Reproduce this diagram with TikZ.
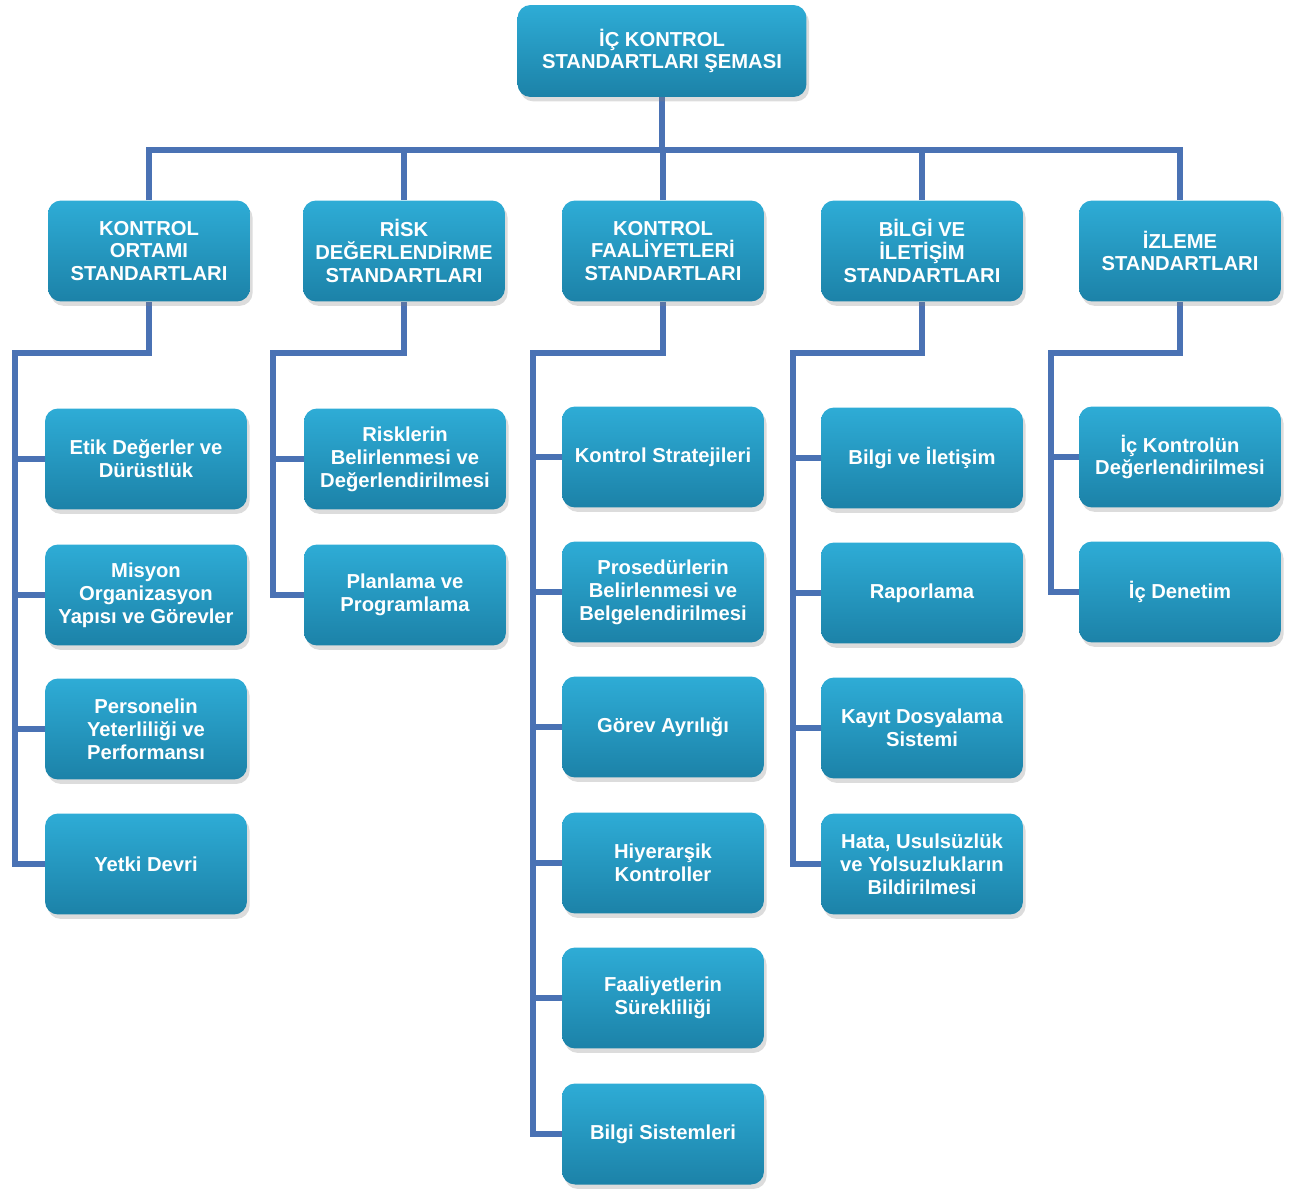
\documentclass[tikz,border=0pt]{standalone}
\usepackage{fontspec}
\setmainfont{Liberation Sans}
\usetikzlibrary{shadows,calc}
\definecolor{linecol}{RGB}{74,114,180}
\definecolor{boxtop}{RGB}{46,172,214}
\definecolor{boxbot}{RGB}{28,130,168}
\pgfdeclarelayer{bg}
\pgfsetlayers{bg,main}
\tikzset{
  box/.style={rounded corners=0.26cm, top color=boxtop, bottom color=boxbot,
    minimum width=4.04cm, minimum height=2.02cm, align=center, text=white,
    font=\fontsize{11.5}{13}\selectfont\bfseries, inner sep=2pt,
    drop shadow={opacity=0.28, shadow xshift=1.5pt, shadow yshift=-2.5pt}},
  conn/.style={draw=linecol, line width=3.4pt, line join=miter}
}
\begin{document}
\begin{tikzpicture}[x=0.02cm,y=-0.02cm]
\useasboundingbox (0,0) rectangle (1291,1189);
% top
\node[box, minimum width=5.78cm, minimum height=1.84cm] (top) at (662,51) {İÇ KONTROL\\STANDARTLARI ŞEMASI};
% level 1
\node[box] (k1) at (149,251) {KONTROL\\ORTAMI\\STANDARTLARI};
\node[box] (k2) at (404,251) {RİSK\\DEĞERLENDİRME\\STANDARTLARI};
\node[box] (k3) at (663,251) {KONTROL\\FAALİYETLERİ\\STANDARTLARI};
\node[box] (k4) at (922,251) {BİLGİ VE\\İLETİŞİM\\STANDARTLARI};
\node[box] (k5) at (1180,251) {İZLEME\\STANDARTLARI};
% column 1
\node[box] (a1) at (146,459) {Etik Değerler ve\\Dürüstlük};
\node[box] (a2) at (146,595) {Misyon\\Organizasyon\\Yapısı ve Görevler};
\node[box] (a3) at (146,729) {Personelin\\Yeterliliği ve\\Performansı};
\node[box] (a4) at (146,864) {Yetki Devri};
% column 2
\node[box] (b1) at (405,459) {Risklerin\\Belirlenmesi ve\\Değerlendirilmesi};
\node[box] (b2) at (405,595) {Planlama ve\\Programlama};
% column 3
\node[box] (c1) at (663,457) {Kontrol Stratejileri};
\node[box] (c2) at (663,592) {Prosedürlerin\\Belirlenmesi ve\\Belgelendirilmesi};
\node[box] (c3) at (663,727) {Görev Ayrılığı};
\node[box] (c4) at (663,863) {Hiyerarşik\\Kontroller};
\node[box] (c5) at (663,998) {Faaliyetlerin\\Sürekliliği};
\node[box] (c6) at (663,1134) {Bilgi Sistemleri};
% column 4
\node[box] (d1) at (922,458) {Bilgi ve İletişim};
\node[box] (d2) at (922,593) {Raporlama};
\node[box] (d3) at (922,728) {Kayıt Dosyalama\\Sistemi};
\node[box] (d4) at (922,864) {Hata, Usulsüzlük\\ve Yolsuzlukların\\Bildirilmesi};
% column 5
\node[box] (e1) at (1180,457) {İç Kontrolün\\Değerlendirilmesi};
\node[box] (e2) at (1180,592) {İç Denetim};
% coordinates
\coordinate (bus) at (0,150);
\coordinate (s1) at (15,353);
\coordinate (s2) at (273,353);
\coordinate (s3) at (533,353);
\coordinate (s4) at (793,353);
\coordinate (s5) at (1051,353);
\begin{pgfonlayer}{bg}
\draw[conn] (top.south) -- (top.south |- bus);
\draw[conn] (k1.north) -- (k1.north |- bus) -- (k5.north |- bus) -- (k5.north);
\draw[conn] (k2.north) -- (k2.north |- bus);
\draw[conn] (k3.north) -- (k3.north |- bus);
\draw[conn] (k4.north) -- (k4.north |- bus);
% column 1
\draw[conn] (k1.south) |- (s1) -- (s1 |- a4.west) -- (a4.west);
\draw[conn] (s1 |- a1.west) -- (a1.west);
\draw[conn] (s1 |- a2.west) -- (a2.west);
\draw[conn] (s1 |- a3.west) -- (a3.west);
% column 2
\draw[conn] (k2.south) |- (s2) -- (s2 |- b2.west) -- (b2.west);
\draw[conn] (s2 |- b1.west) -- (b1.west);
% column 3
\draw[conn] (k3.south) |- (s3) -- (s3 |- c6.west) -- (c6.west);
\draw[conn] (s3 |- c1.west) -- (c1.west);
\draw[conn] (s3 |- c2.west) -- (c2.west);
\draw[conn] (s3 |- c3.west) -- (c3.west);
\draw[conn] (s3 |- c4.west) -- (c4.west);
\draw[conn] (s3 |- c5.west) -- (c5.west);
% column 4
\draw[conn] (k4.south) |- (s4) -- (s4 |- d4.west) -- (d4.west);
\draw[conn] (s4 |- d1.west) -- (d1.west);
\draw[conn] (s4 |- d2.west) -- (d2.west);
\draw[conn] (s4 |- d3.west) -- (d3.west);
% column 5
\draw[conn] (k5.south) |- (s5) -- (s5 |- e2.west) -- (e2.west);
\draw[conn] (s5 |- e1.west) -- (e1.west);
\end{pgfonlayer}
\end{tikzpicture}
\end{document}
